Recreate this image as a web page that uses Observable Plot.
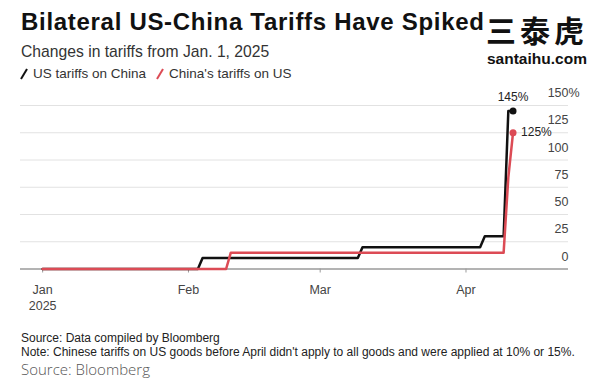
<!DOCTYPE html>
<html>
<head>
<meta charset="utf-8">
<script src="https://cdn.jsdelivr.net/npm/d3@7"></script>
<script src="https://cdn.jsdelivr.net/npm/@observablehq/plot@0.6"></script>
<style>
  html, body { margin: 0; padding: 0; background: #fff; }
  body { width: 600px; height: 381px; position: relative; overflow: hidden; font-family: "Liberation Sans", Arial, sans-serif; }
  .abs { position: absolute; white-space: nowrap; }
  #title { left: 21px; top: 10px; font-size: 24px; line-height: 24px; font-weight: bold; color: #111; letter-spacing: 0.7px; }
  #subtitle { left: 21px; top: 44px; font-size: 15.7px; line-height: 16px; color: #333; }
  #legend { left: 20px; top: 67px; font-size: 13.5px; line-height: 14px; color: #333; display: flex; align-items: center; }
  #legend .item { display: flex; align-items: center; margin-right: 10px; }
  #legend svg { margin-right: 5px; }
  #wm1 { left: 486px; top: 14px; font-family: "Noto Sans CJK SC", sans-serif; font-size: 30px; line-height: 30px; font-weight: 700; color: #111; letter-spacing: 4px; }
  #wm2 { left: 487px; top: 51px; font-size: 15.5px; line-height: 16px; font-weight: bold; color: #111; }
  #chart { left: 0; top: 80px; }
  #src1 { left: 21px; top: 332px; font-size: 12px; line-height: 12px; color: #222; }
  #src2 { left: 21px; top: 345.5px; font-size: 12px; line-height: 12px; color: #222; }
  #src3 { left: 21px; top: 359px; font-size: 15px; line-height: 20px; color: #555; font-family: "Open Sans", sans-serif; font-weight: 300; }
</style>
</head>
<body>
<div id="title" class="abs">Bilateral US-China Tariffs Have Spiked</div>
<div id="subtitle" class="abs">Changes in tariffs from Jan. 1, 2025</div>
<div id="legend" class="abs"></div>
<div id="wm1" class="abs">三泰虎</div>
<div id="wm2" class="abs">santaihu.com</div>
<div id="chart" class="abs"></div>
<div id="src1" class="abs">Source: Data compiled by Bloomberg</div>
<div id="src2" class="abs">Note: Chinese tariffs on US goods before April didn't apply to all goods and were applied at 10% or 15%.</div>
<div id="src3" class="abs">Source: Bloomberg</div>
<script>
// ---- data ----
const seriesNames = ["US tariffs on China", "China's tariffs on US"];
const seriesColors = ["#111111", "#dc4b55"];

const usDates  = ["2025-01-01","2025-02-03","2025-02-04","2025-03-09","2025-03-10","2025-04-04","2025-04-05","2025-04-09","2025-04-10","2025-04-11"];
const usValues = [0, 0, 10, 10, 20, 20, 30, 30, 145, 145];

const cnDates  = ["2025-01-01","2025-02-09","2025-02-10","2025-04-09","2025-04-10","2025-04-11"];
const cnValues = [0, 0, 15, 15, 84, 125];

const yTicks = [0, 25, 50, 75, 100, 125, 150];
const xTickDates = ["2025-01-01","2025-02-01","2025-03-01","2025-04-01"];
const xTickLabels = ["Jan\n2025", "Feb", "Mar", "Apr"];

const endLabels = ["145%", "125%"];

// ---- build ----
const parse = d3.utcParse("%Y-%m-%d");
const us = usDates.map((d, i) => ({date: parse(d), value: usValues[i]}));
const cn = cnDates.map((d, i) => ({date: parse(d), value: cnValues[i]}));
const xTicks = xTickDates.map(parse);
const xStart = new Date(Date.UTC(2024, 11, 27, 7));
const xEnd = new Date(Date.UTC(2025, 3, 22, 19));

// legend
const legend = document.getElementById("legend");
seriesNames.forEach((name, i) => {
  const item = document.createElement("span");
  item.className = "item";
  item.innerHTML = `<svg width="8" height="12"><line x1="1" y1="11" x2="7" y2="1" stroke="${seriesColors[i]}" stroke-width="2"/></svg><span>${name.replace("'", "&#39;")}</span>`;
  legend.appendChild(item);
});

const chart = Plot.plot({
  width: 600,
  height: 235,
  marginLeft: 20,
  marginRight: 32,
  marginTop: 25,
  marginBottom: 46.5,
  style: {fontFamily: "Liberation Sans, Arial, sans-serif", fontSize: "12.5px", color: "#444", background: "transparent"},
  x: {type: "utc", domain: [xStart, xEnd], axis: null},
  y: {domain: [0, 150], axis: null},
  marks: [
    Plot.ruleY(yTicks.filter(v => v > 0), {stroke: "#e2e2e2", strokeWidth: 1}),
    Plot.axisX({ticks: xTicks, tickFormat: (d, i) => xTickLabels[i], tickSize: 4, tickPadding: 10.5, stroke: "#9a9a9a", fill: "#444", lineHeight: 1.23, fontSize: 12.5}),
    Plot.ruleY([0], {stroke: "#9a9a9a", strokeWidth: 1.5}),
    Plot.text(yTicks, {x: () => xEnd, y: d => d, text: d => String(d), textAnchor: "end", dy: -12.5, fill: "#444", fontSize: 12.5}),
    Plot.text([150], {x: () => xEnd, y: d => d, text: () => "%", textAnchor: "start", dy: -12.5, fill: "#444", fontSize: 12.5}),
    Plot.line(us, {x: "date", y: "value", stroke: seriesColors[0], strokeWidth: 2.5, curve: "linear"}),
    Plot.line(cn, {x: "date", y: "value", stroke: seriesColors[1], strokeWidth: 2.5, curve: "linear"}),
    Plot.dot([us[us.length - 1]], {x: "date", y: "value", r: 3.5, fill: seriesColors[0]}),
    Plot.dot([cn[cn.length - 1]], {x: "date", y: "value", r: 3.5, fill: seriesColors[1]}),
    Plot.text([us[us.length - 1]], {x: "date", y: "value", text: () => endLabels[0], dy: -14, textAnchor: "middle", fill: "#222", fontSize: 12}),
    Plot.text([cn[cn.length - 1]], {x: "date", y: "value", text: () => endLabels[1], dx: 8, dy: -1, textAnchor: "start", fill: "#222", fontSize: 12})
  ]
});
document.getElementById("chart").appendChild(chart);
</script>
</body>
</html>
